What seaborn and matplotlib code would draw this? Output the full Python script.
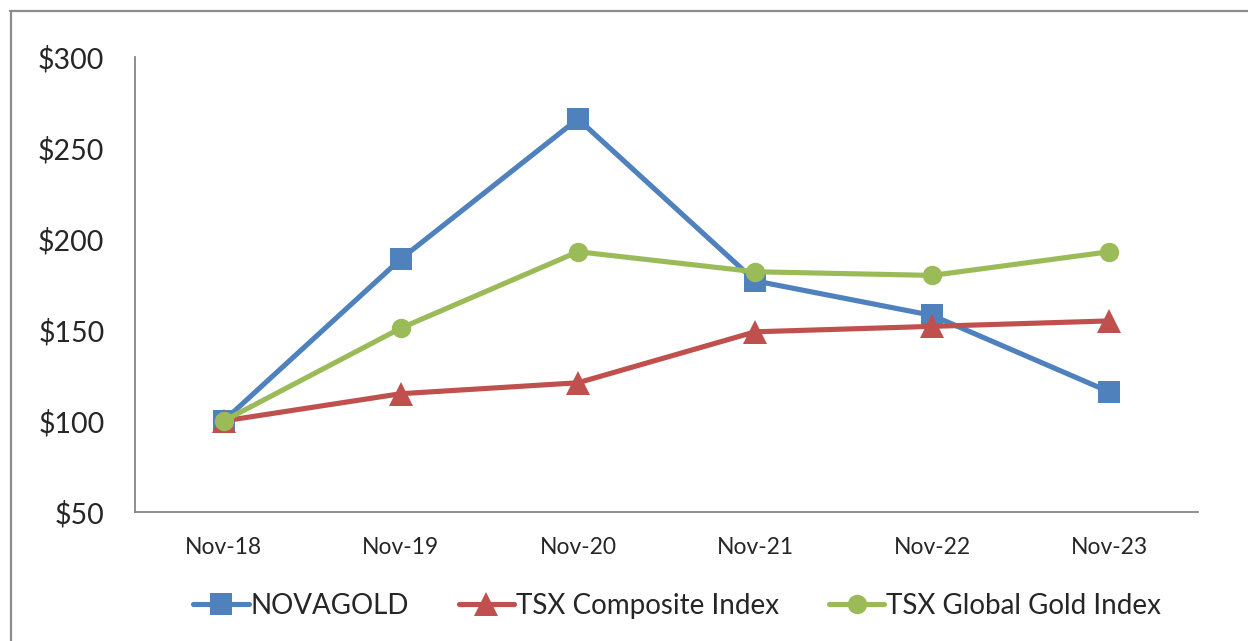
import matplotlib
matplotlib.use("Agg")
import matplotlib.pyplot as plt
import matplotlib.lines as mlines
import pandas as pd
import seaborn as sns

# values
periods = ["Nov-18", "Nov-19", "Nov-20", "Nov-21", "Nov-22", "Nov-23"]
novagold = [100, 189, 266, 177, 158, 116]
tsx_composite = [100, 115, 121, 149, 152, 155]
tsx_gold = [100, 151, 193, 182, 180, 193]
y_ticks = [50, 100, 150, 200, 250, 300]

series_names = ["NOVAGOLD", "TSX Composite Index", "TSX Global Gold Index"]
colors = ["#4F81BD", "#C0504D", "#9BBB59"]
markers = ["s", "^", "o"]
msizes = [16, 17, 14]

rows = []
for name, vals in zip(series_names, [novagold, tsx_composite, tsx_gold]):
    for i, (p, v) in enumerate(zip(periods, vals)):
        rows.append({"period": p, "pos": i, "value": v, "series": name})
df = pd.DataFrame(rows)

sns.set_style("white")
plt.rcParams["font.family"] = ["Lato", "DejaVu Sans"]

fig = plt.figure(figsize=(12.48, 6.41), dpi=100)
ax = fig.add_axes([135 / 1248, 1 - 512 / 641, (1198 - 135) / 1248, (512 - 57) / 641])

for name, c, m, ms in zip(series_names, colors, markers, msizes):
    sub = df[df["series"] == name]
    sns.lineplot(data=sub, x="pos", y="value", ax=ax, color=c, marker=m,
                 markersize=ms, markeredgewidth=0, linewidth=3.7, label=name,
                 legend=False)

ax.set_xlim(-0.5, len(periods) - 0.5)
ax.set_ylim(50, 300)
ax.set_xticks(range(len(periods)))
ax.set_xticklabels(periods, fontsize=16.5)
ax.set_xticks([i - 0.5 for i in range(len(periods) + 1)], minor=True)
ax.tick_params(axis="x", which="major", length=0, pad=18)
ax.tick_params(axis="x", which="minor", length=7, width=1.3, color="#868686", direction="out")
ax.set_yticks(y_ticks)
ax.set_yticklabels([f"${v}" for v in y_ticks], fontsize=20.5)
ax.tick_params(axis="y", length=7, width=1.3, color="#868686", direction="out", pad=15)
ax.set_xlabel("")
ax.set_ylabel("")

for s in ["top", "right"]:
    ax.spines[s].set_visible(False)
for s in ["left", "bottom"]:
    ax.spines[s].set_color("#868686")
    ax.spines[s].set_linewidth(1.3)

handles = [mlines.Line2D([], [], color=c, marker=m, markersize=ms, markeredgewidth=0,
                         linewidth=3.7)
           for c, m, ms in zip(colors, markers, msizes)]
fig.legend(handles, series_names, loc="center", bbox_to_anchor=(677 / 1248, 1 - 606 / 641),
           ncol=3, frameon=False, fontsize=20, handlelength=2.0, handletextpad=0.05,
           columnspacing=1.8)

# outer chart border (top and left edges visible in the crop)
fig.add_artist(mlines.Line2D([10 / 1248, 1], [1 - 11 / 641, 1 - 11 / 641],
                             transform=fig.transFigure, color="#8c8c8c", linewidth=1.6))
fig.add_artist(mlines.Line2D([10.5 / 1248, 10.5 / 1248], [0, 1 - 11 / 641],
                             transform=fig.transFigure, color="#8c8c8c", linewidth=1.6))

fig.savefig("out.png", dpi=100)
